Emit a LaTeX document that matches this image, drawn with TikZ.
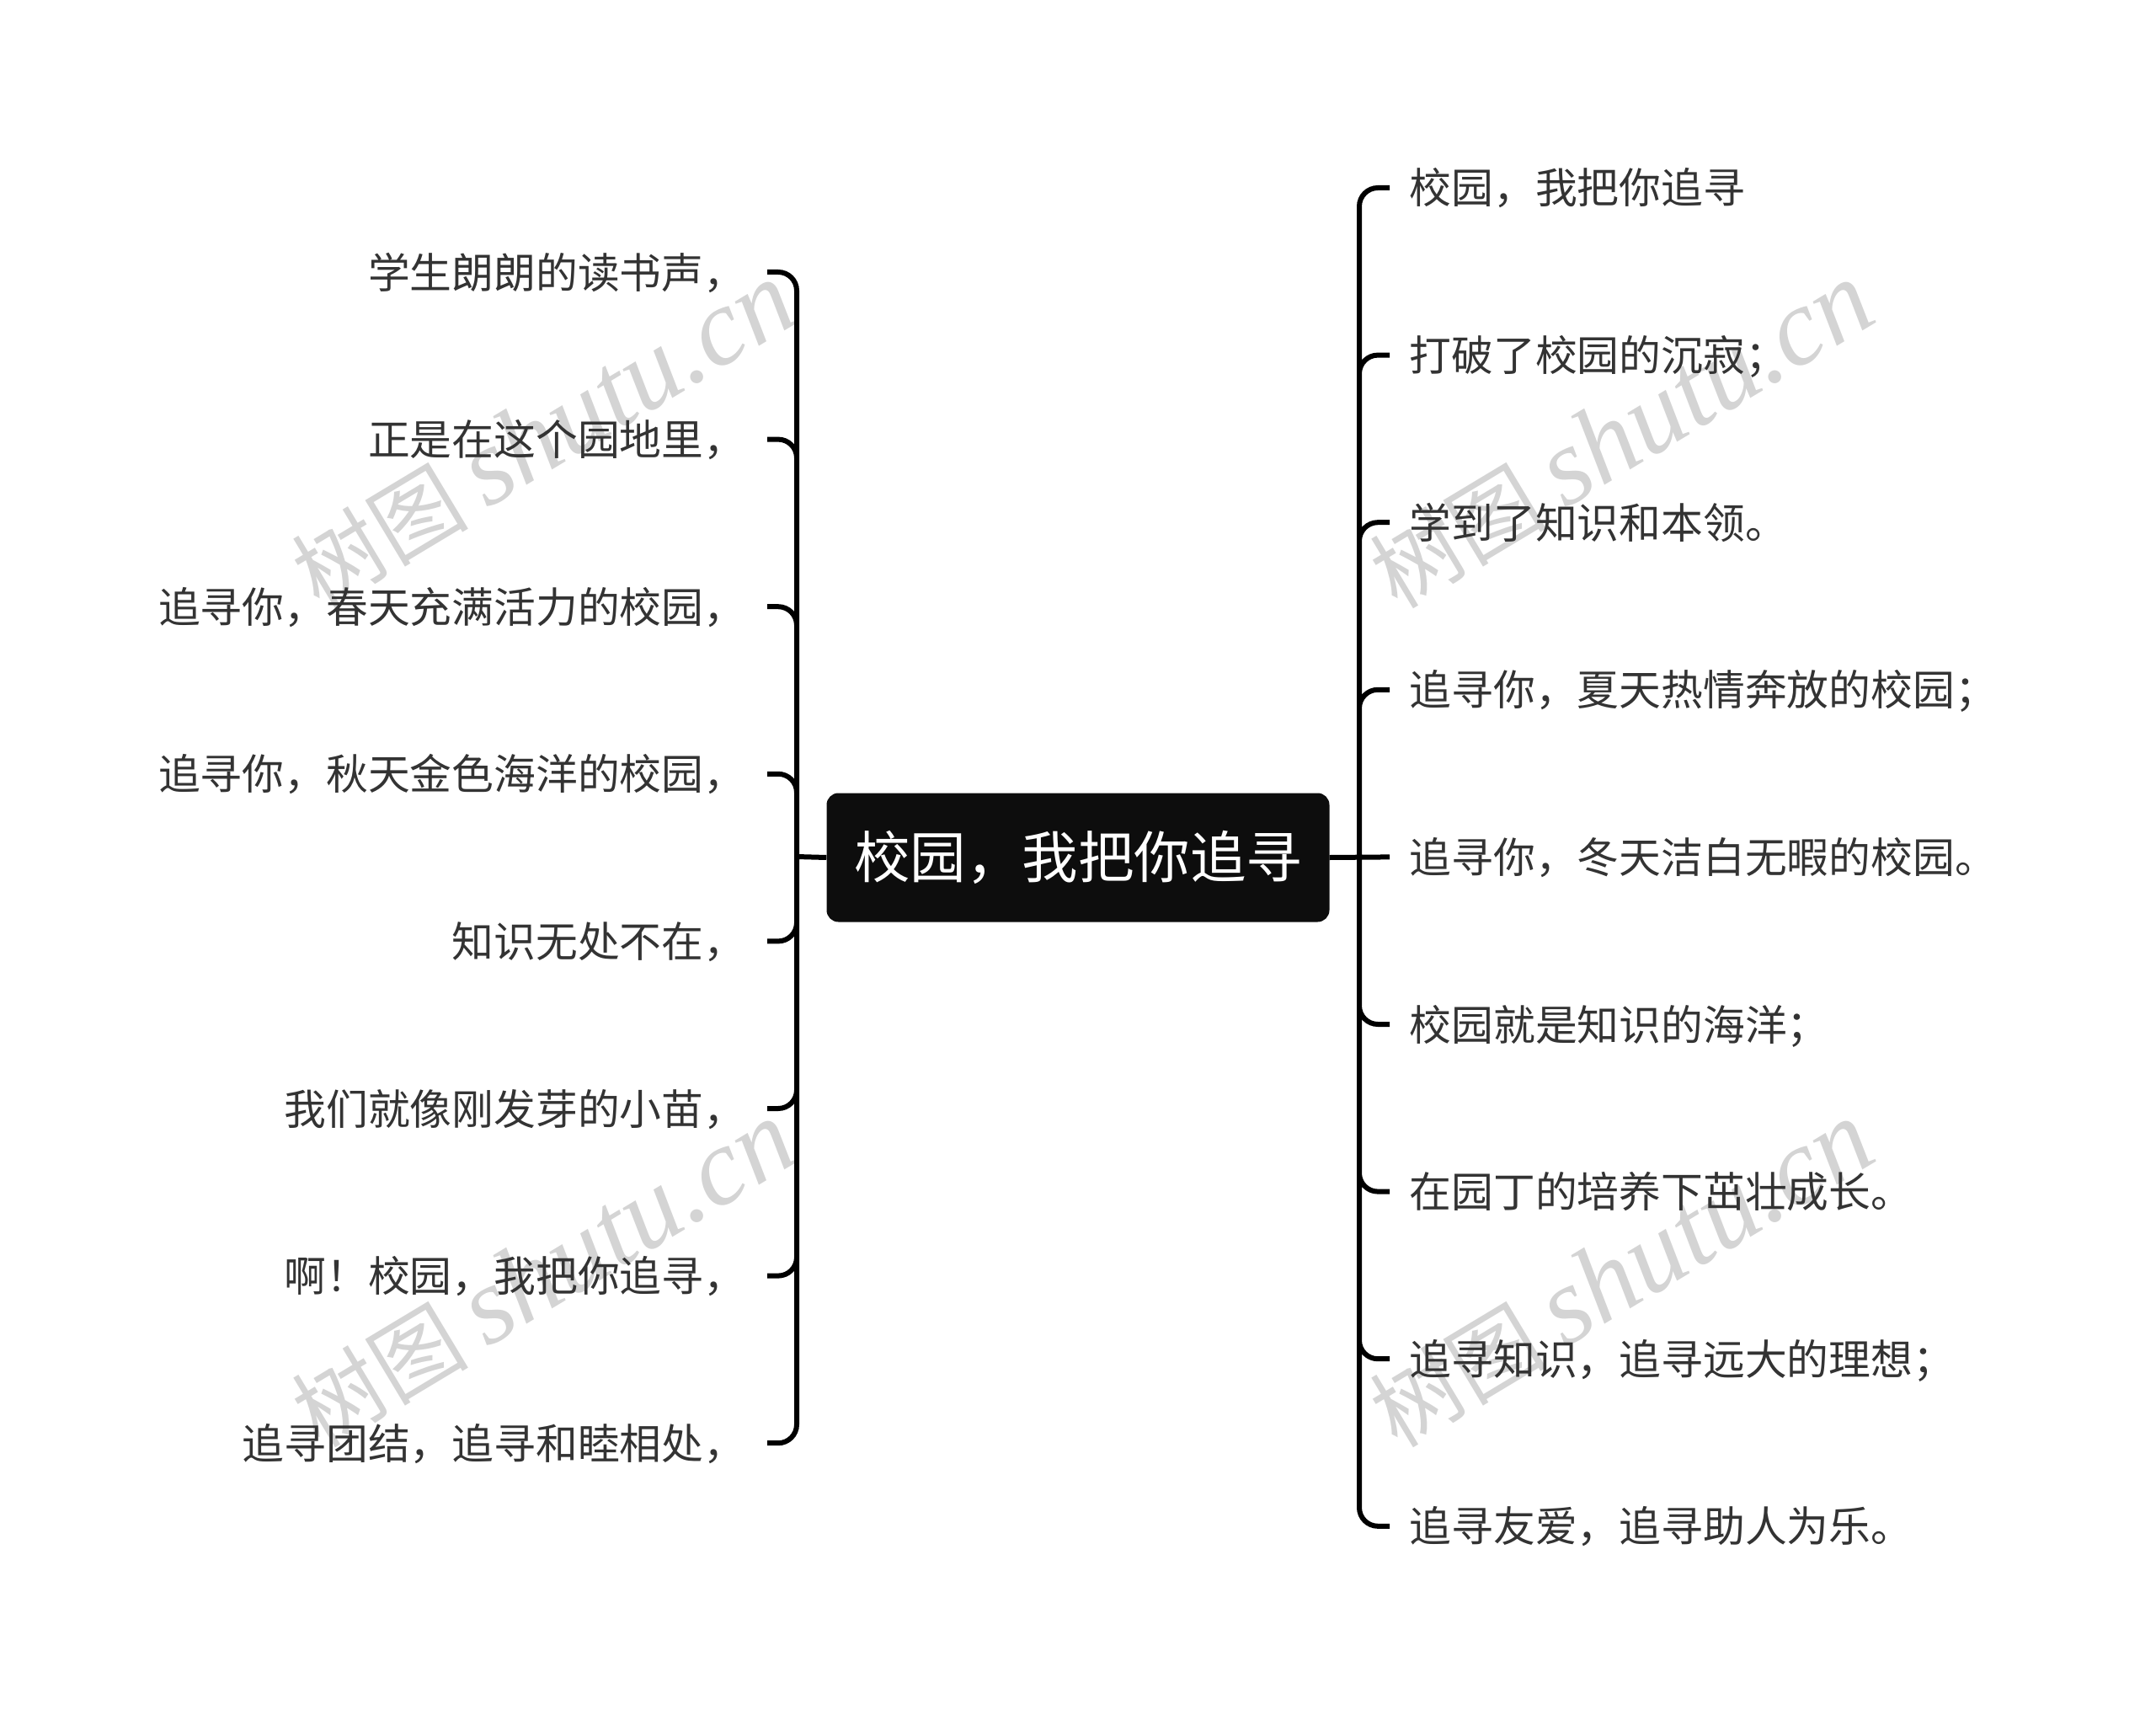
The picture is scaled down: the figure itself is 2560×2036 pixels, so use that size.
\documentclass[tikz,border=0pt]{standalone}
\usepackage{fontspec}
\usetikzlibrary{positioning}
\setmainfont{Noto Sans CJK SC}
\newfontfamily\markcjk[AutoFakeSlant=0.2]{Noto Sans CJK SC}
\newfontfamily\marklatin{Liberation Serif}
\definecolor{rootfill}{HTML}{0D0D0D}
\definecolor{leaftext}{HTML}{333333}
\definecolor{markgray}{HTML}{D4D4D4}
\tikzset{
    rootbox/.style={fill=rootfill, rounded corners=14pt, text=white, font=\fontsize{66.5pt}{70pt}\selectfont, minimum width=597pt, minimum height=153pt, inner sep=0pt},
    leaf/.style={text=leaftext, font=\fontsize{49.8pt}{54pt}\selectfont, inner ysep=0pt, text height=42pt, text depth=4pt},
    rightleaf/.style={leaf, inner xsep=23.5pt, anchor=west},
    leftleaf/.style={leaf, inner xsep=25.5pt, anchor=east},
    link/.style={draw=black, line width=6pt, rounded corners=22pt},
    stamp/.style={text=markgray, rotate=31, inner sep=0pt},
}
\newcommand{\stamptext}{{\fontsize{105pt}{108pt}\selectfont\markcjk 树图}\hspace{22pt}{\fontsize{130pt}{134pt}\selectfont\marklatin\itshape shutu.cn}}
\begin{document}
\begin{tikzpicture}[x=1pt, y=-1pt]
    \useasboundingbox (0,0) rectangle (2560,2036);

    \node[stamp] (m1) at (645,517) {\stamptext};
    \node[stamp] (m2) at (1925,517) {\stamptext};
    \node[stamp] (m3) at (645,1513) {\stamptext};
    \node[stamp] (m4) at (1925,1513) {\stamptext};

    \node[rootbox] (root) at (1280,1018) {校园，我把你追寻};

    \coordinate (rj) at (1614,1017);
    \coordinate (lj) at (946,1017);

    \node[rightleaf] (r1) at (1650,223) {校园，我把你追寻};
    \node[rightleaf] (r2) [below=198.6pt of r1.west, anchor=west] {打破了校园的沉寂；};
    \node[rightleaf] (r3) [below=198.6pt of r2.west, anchor=west] {学到了知识和本领。};
    \node[rightleaf] (r4) [below=198.6pt of r3.west, anchor=west] {追寻你，夏天热情奔放的校园；};
    \node[rightleaf] (r5) [below=198.6pt of r4.west, anchor=west] {追寻你，冬天洁白无暇的校园。};
    \node[rightleaf] (r6) [below=198.6pt of r5.west, anchor=west] {校园就是知识的海洋；};
    \node[rightleaf] (r7) [below=198.6pt of r6.west, anchor=west] {在园丁的培养下茁壮成长。};
    \node[rightleaf] (r8) [below=198.6pt of r7.west, anchor=west] {追寻知识，追寻远大的理想；};
    \node[rightleaf] (r9) [below=198.6pt of r8.west, anchor=west] {追寻友爱，追寻助人为乐。};

    \node[leftleaf] (l1) at (911,323) {学生朗朗的读书声，};
    \node[leftleaf] (l2) [below=198.6pt of l1.east, anchor=east] {正是在这个园地里，};
    \node[leftleaf] (l3) [below=198.6pt of l2.east, anchor=east] {追寻你，春天充满活力的校园，};
    \node[leftleaf] (l4) [below=198.6pt of l3.east, anchor=east] {追寻你，秋天金色海洋的校园，};
    \node[leftleaf] (l5) [below=198.6pt of l4.east, anchor=east] {知识无处不在，};
    \node[leftleaf] (l6) [below=198.6pt of l5.east, anchor=east] {我们就像刚发芽的小苗，};
    \node[leftleaf] (l7) [below=198.6pt of l6.east, anchor=east] {啊！校园，我把你追寻，};
    \node[leftleaf] (l8) [below=198.6pt of l7.east, anchor=east] {追寻团结，追寻和睦相处，};

    \path[link]
    (root.east) -- (r5.west)
    (rj) |- (r1.west)
    (rj) |- (r2.west)
    (rj) |- (r3.west)
    (rj) |- (r4.west)
    (rj) |- (r6.west)
    (rj) |- (r7.west)
    (rj) |- (r8.west)
    (rj) |- (r9.west)
    ;
    \path[link]
    (root.west) -- (lj)
    (lj) |- (l1.east)
    (lj) |- (l2.east)
    (lj) |- (l3.east)
    (lj) |- (l4.east)
    (lj) |- (l5.east)
    (lj) |- (l6.east)
    (lj) |- (l7.east)
    (lj) |- (l8.east)
    ;
\end{tikzpicture}
\end{document}
